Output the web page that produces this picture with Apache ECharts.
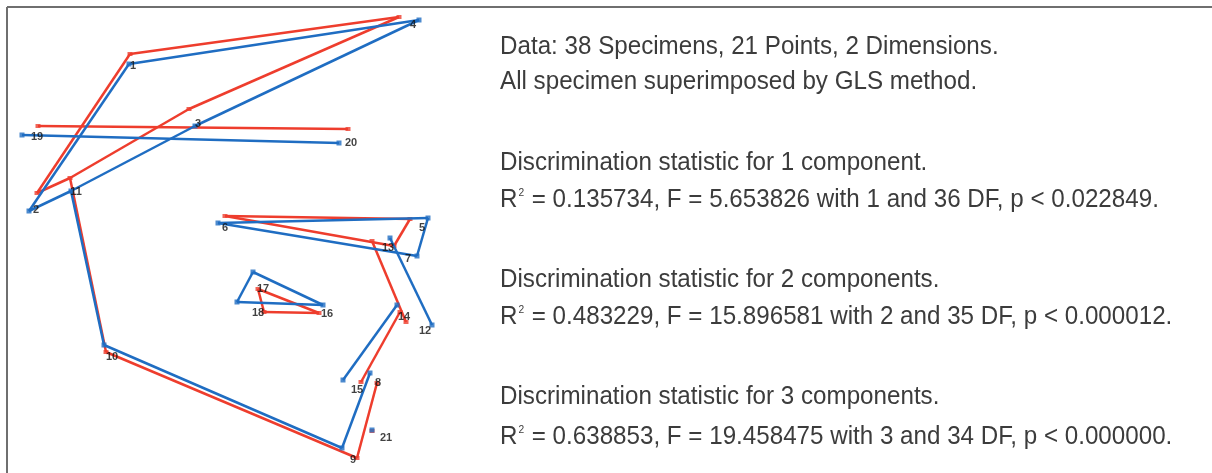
<!DOCTYPE html>
<html>
<head>
<meta charset="utf-8">
<title>Landmark configuration – group means</title>
<script src="https://cdn.jsdelivr.net/npm/echarts@6/dist/echarts.min.js"></script>
<style>
  html, body { margin: 0; padding: 0; background: #ffffff; }
  #chart { width: 1212px; height: 473px; }
</style>
</head>
<body>
<div id="chart"></div>
<script>
// Landmark numbers 1..21
const landmarkIds = [1,2,3,4,5,6,7,8,9,10,11,12,13,14,15,16,17,18,19,20,21];

// Mean configuration of group A (red), [x, y] per landmark, plot units
const groupA = [
  [130, 54], [37, 193], [189, 109], [399, 17], [410, 219], [225, 216], [394, 246],
  [377, 383], [357, 458], [106, 352], [70, 178], [406, 322], [372, 241], [400, 312],
  [361, 382], [319, 313], [258, 289], [264, 312], [38, 126], [348, 129], [372, 431]
];

// Mean configuration of group B (blue)
const groupB = [
  [129, 64], [29, 211], [195, 126], [419, 20], [428, 218], [218, 223], [417, 256],
  [370, 373], [342, 448], [104, 345], [71, 191], [432, 325], [390, 238], [397, 305],
  [343, 380], [323, 305], [253, 272], [237, 302], [22, 135], [339, 143], [372, 430]
];

// Wireframe links between landmarks
const links = [
  [1, 4], [1, 2], [2, 11], [11, 3], [3, 4], [11, 10], [10, 9], [9, 8],
  [6, 5], [5, 7], [7, 6], [13, 12], [14, 15],
  [17, 16], [16, 18], [18, 17], [19, 20]
];

// Text block beside the plot ({sup|..} marks a superscript)
const notes = [
  'Data: 38 Specimens, 21 Points, 2 Dimensions.',
  'All specimen superimposed by GLS method.',
  '',
  'Discrimination statistic for 1 component.',
  'R{sup|2} = 0.135734, F = 5.653826 with 1 and 36 DF, p < 0.022849.',
  '',
  'Discrimination statistic for 2 components.',
  'R{sup|2} = 0.483229, F = 15.896581 with 2 and 35 DF, p < 0.000012.',
  '',
  'Discrimination statistic for 3 components.',
  'R{sup|2} = 0.638853, F = 19.458475 with 3 and 34 DF, p < 0.000000.'
];

// Label nudges (pixels) relative to the blue landmark
const tagOffset = [
  [4, 2], [7, -1], [3, -2], [-6, 5], [-6, 10], [7, 5], [-9, 3],
  [8, 10], [11, 12], [8, 12], [5, 1], [-7, 6], [-2, 10], [7, 12],
  [14, 10], [4, 9], [10, 17], [21, 11], [15, 2], [12, 0], [14, 8]
];

const RED = '#ee3d2d';
const BLUE = '#1f6dc2';
const TEXT_FONT = '"Liberation Sans", Arial, sans-serif';

function linkData(shape) {
  return links.map(([a, b]) => ({ coords: [shape[a - 1], shape[b - 1]] }));
}

// Vertical centre of each note line
const noteY = [47, 82, null, 163, 200, null, 280, 317, null, 397, 437];
const graphics = [];
notes.forEach((t, i) => {
  if (!t) return;
  const plain = t.replace(/\{sup\|2\}/g, '');
  const rich = t.replace(/^R\{sup\|2\}/, '{b|R}{sup|2}').replace(/^([^{].*)$/, '{b|$1}');
  graphics.push({
    type: 'text',
    x: 500,
    y: noteY[i],
    scaleX: 0.93,
    style: {
      text: t.indexOf('{sup|') >= 0 ? rich.replace(/\{sup\|2\}(.*)$/, '{sup|2}{b|$1}') : '{b|' + plain + '}',
      verticalAlign: 'middle',
      rich: {
        b: { fontSize: 26, fontFamily: TEXT_FONT, fill: '#3c3c3c', color: '#3c3c3c' },
        sup: { fontSize: 11, fontFamily: TEXT_FONT, fill: '#3c3c3c', color: '#3c3c3c', verticalAlign: 'top', padding: [0, 1, 0, 1] }
      }
    }
  });
});
// Frame lines (top and left)
graphics.push({ type: 'line', shape: { x1: 7, y1: 7, x2: 1212, y2: 7 }, style: { stroke: '#6f6f6f', lineWidth: 2 } });
graphics.push({ type: 'line', shape: { x1: 7, y1: 7, x2: 7, y2: 473 }, style: { stroke: '#6f6f6f', lineWidth: 2 } });

const chart = echarts.init(document.getElementById('chart'), null, { renderer: 'canvas' });
chart.setOption({
  animation: false,
  backgroundColor: '#ffffff',
  grid: { left: 0, top: 0, width: 480, height: 473, containLabel: false },
  xAxis: { type: 'value', min: 0, max: 480, show: false },
  yAxis: { type: 'value', min: 0, max: 473, inverse: true, show: false },
  graphic: graphics,
  series: [
    {
      type: 'lines', coordinateSystem: 'cartesian2d', polyline: false,
      lineStyle: { color: RED, width: 2.5, opacity: 1 },
      data: linkData(groupA), z: 2
    },
    {
      type: 'scatter', symbol: 'rect', symbolSize: [5, 4],
      itemStyle: { color: RED }, data: groupA, z: 3
    },
    {
      type: 'lines', coordinateSystem: 'cartesian2d', polyline: false,
      lineStyle: { color: BLUE, width: 2.5, opacity: 1 },
      data: linkData(groupB), z: 4
    },
    {
      type: 'scatter', symbol: 'rect', symbolSize: 5,
      itemStyle: { color: BLUE }, data: groupB, z: 5
    },
    {
      type: 'scatter', symbolSize: 0, z: 6, silent: true,
      data: groupB.map((p, i) => ({
        value: p,
        label: {
          show: true, position: 'inside', offset: tagOffset[i],
          formatter: String(landmarkIds[i]),
          color: '#111', fontWeight: 'bold', fontSize: 11,
          fontFamily: TEXT_FONT
        }
      }))
    }
  ]
});
</script>
</body>
</html>
